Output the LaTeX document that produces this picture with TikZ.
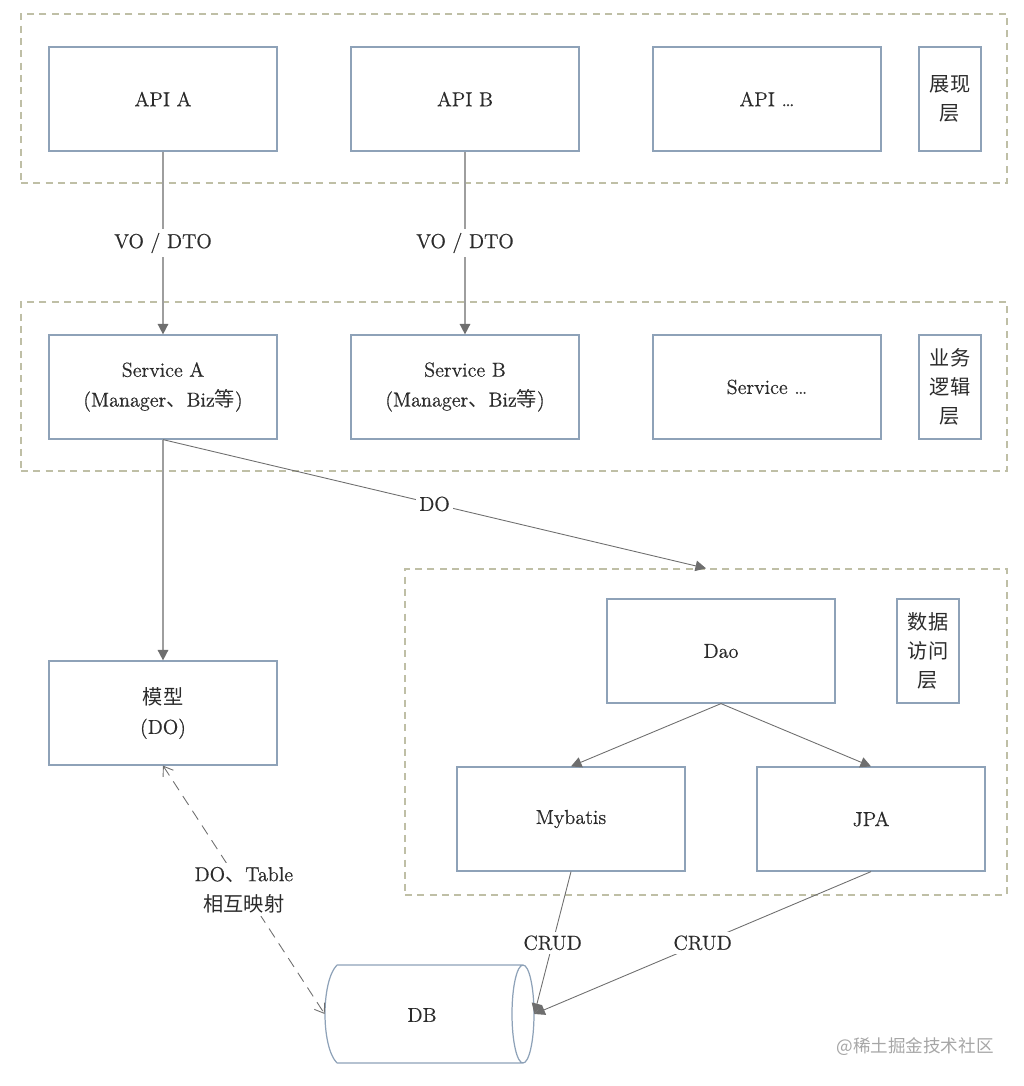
\documentclass[tikz,border=0pt]{standalone}
\usepackage{fontspec}
\setmainfont{lmroman12-regular}[Extension=.otf, FakeBold=0.6]
\newfontfamily\cjk{Noto Sans CJK SC}
\usetikzlibrary{arrows.meta}
\newcommand\dun{{\cjk 、}}
\definecolor{boxblue}{HTML}{8EA2B8}
\definecolor{layerolive}{HTML}{BFBFA6}
\definecolor{linegray}{HTML}{9E9E9E}
\definecolor{tipgray}{HTML}{6E6E6E}
\definecolor{inkgray}{HTML}{2B2B2B}
\tikzset{
  layer/.style={draw=layerolive, line width=0.8pt, dash pattern=on 4pt off 3pt, inner sep=0},
  unit/.style={draw=boxblue, line width=0.7pt, minimum width=4.56cm, minimum height=2.08cm,
    inner sep=0, align=center, text=inkgray, font=\fontsize{11.5}{17}\selectfont},
  tag/.style={unit, minimum width=1.24cm, font=\fontsize{11.5}{16.5}\selectfont\cjk},
  flow/.style={draw=linegray, line width=0.9pt, -{Triangle[length=6pt,width=6pt,color=tipgray]}},
  feed/.style={draw=tipgray, line width=0.5pt, -{Triangle[length=6pt,width=6pt]}},
  mapline/.style={draw=tipgray, line width=0.5pt, dash pattern=on 6pt off 4pt,
    {Straight Barb[length=5pt,width=7pt]}-{Straight Barb[length=5pt,width=7pt]}},
  note/.style={fill=white, inner sep=2pt, text=inkgray, align=center,
    font=\fontsize{11.5}{17}\selectfont},
}

\begin{document}
\begin{tikzpicture}[x=0.02cm, y=-0.02cm]
	\useasboundingbox (0,0) rectangle (1024,1086);
	
	\node[layer, minimum width=19.72cm, minimum height=3.38cm] (view) at (514,98.5) {};
	\node[layer, minimum width=19.72cm, minimum height=3.38cm] (logic) at (514,386.5) {};
	\node[layer, minimum width=12.04cm, minimum height=6.52cm] (dal) at (706,732) {};
	
	\node[unit] (apia) at (163,99) {API A};
	\node[unit] (apib) at (465,99) {API B};
	\node[unit] (apin) at (767,99) {API \ldots};
	\node[tag] (tview) at (950,99) {展现\\层};
	
	\node[unit] (sva) at (163,387) {Service A\\(Manager\dun Biz{\cjk 等})};
	\node[unit] (svb) at (465,387) {Service B\\(Manager\dun Biz{\cjk 等})};
	\node[unit] (svn) at (767,387) {Service \ldots};
	\node[tag] (tlogic) at (950,387) {业务\\逻辑\\层};
	
	\node[unit] (model) at (163,713) {{\cjk 模型}\\(DO)};
	\node[unit] (dao) at (721,651) {Dao};
	\node[tag] (tdal) at (928,651) {数据\\访问\\层};
	\node[unit] (mybatis) at (571,819) {Mybatis};
	\node[unit] (jpa) at (871,819) {JPA};
	
	% DB cylinder
	\node[minimum width=4.18cm, minimum height=1.96cm, inner sep=0] (db) at (429.5,1014) {};
	\node[text=inkgray, font=\fontsize{11.5}{14}\selectfont] (dbname) at (422,1015) {DB};
	\draw[boxblue, line width=0.7pt] (337,965) -- (523,965) (337,1063) -- (523,1063)
		(337,965) .. controls (321,981) and (321,1047) .. (337,1063)
		(523,1014) ellipse [x radius=11, y radius=49];
	
	\draw[flow] (apia) -- node[note] {VO / DTO} (sva);
	\draw[flow] (apib) -- node[note] {VO / DTO} (svb);
	\draw[flow] (sva) -- (model);
	\draw[feed] (sva.south) -- node[note] {DO} (dal.north);
	\draw[feed] (dao.south) -- (mybatis.north);
	\draw[feed] (dao.south) -- (jpa.north);
	\draw[feed] (mybatis.south) -- node[note] {CRUD} (db.east);
	\draw[feed] (jpa.south) -- node[note] {CRUD} (db.east);
	\draw[mapline] (model.south) -- node[note] {DO\dun Table\\{\cjk 相互映射}} (db.west);
	
	\node[text=black!35, font=\fontsize{10}{12}\selectfont\cjk] (mark) at (915,1047) {@稀土掘金技术社区};
\end{tikzpicture}
\end{document}
